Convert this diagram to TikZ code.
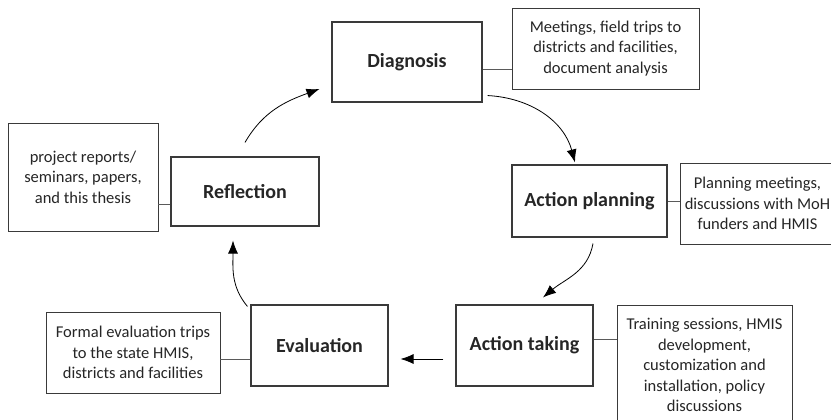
\documentclass[tikz,border=0pt]{standalone}
\usepackage{fontspec}
\setmainfont{Carlito}
\usetikzlibrary{arrows.meta,calc}
\definecolor{boxgray}{HTML}{3A3A3A}
\definecolor{textgray}{HTML}{262626}
\definecolor{linkgray}{HTML}{5A5A5A}
\begin{document}
\begin{tikzpicture}[x=1pt,y=1pt,
  stage/.style={draw=boxgray, line width=1.1pt, fill=white, text=textgray,
    font=\fontsize{20}{24}\selectfont\bfseries, inner sep=0pt},
  note/.style={draw=boxgray, line width=0.9pt, fill=white, text=textgray, align=center,
    font=\fontsize{16.5}{20.5}\selectfont, inner sep=0pt},
  link/.style={draw=linkgray, line width=0.9pt},
  flow/.style={draw=black, line width=0.8pt, -{Latex[length=13pt,width=10pt]}},
]
\useasboundingbox (0,0) rectangle (831,420);
\clip (0,0) rectangle (831,420);

% stages of the cycle
\node[stage, minimum width=150pt, minimum height=80pt] (diag) at (407,358) {Diagnosis};
\node[stage, minimum width=155pt, minimum height=72pt] (plan) at (589.5,219) {Action planning};
\node[stage, minimum width=137pt, minimum height=81pt] (take) at (524.5,74.5) {Action taking};
\node[stage, minimum width=137pt, minimum height=81pt] (eval) at (319.5,74.5) {Evaluation};
\node[stage, minimum width=148pt, minimum height=69pt] (refl) at (245,228.5) {Reflection};

% activities attached to each stage
\node[note, minimum width=187pt, minimum height=81pt] (dnote) at (605.5,371.5)
  {Meetings, field trips to\\districts and facilities,\\document analysis};
\node[note, minimum width=155pt, minimum height=81pt] (pnote) at (757.5,216.5)
  {Planning meetings,\\discussions with MoH\\funders and HMIS};
\node[note, minimum width=175pt, minimum height=120pt] (tnote) at (704.5,55)
  {Training sessions, HMIS\\development,\\customization and\\installation, policy\\discussions};
\node[note, minimum width=174pt, minimum height=81pt] (enote) at (133,67.5)
  {Formal evaluation trips\\to the state HMIS,\\districts and facilities};
\node[note, minimum width=150pt, minimum height=108pt] (rnote) at (83,243)
  {project reports/\\seminars, papers,\\and this thesis};

% levels of the attaching lines
\coordinate (dl) at (0,351);
\coordinate (pl) at (0,219);
\coordinate (tl) at (0,81);
\coordinate (el) at (0,61);
\coordinate (rl) at (0,216);

\draw[link] (diag.east |- dl) -- (dnote.west |- dl);
\draw[link] (plan.east |- pl) -- (pnote.west |- pl);
\draw[link] (take.east |- tl) -- (tnote.west |- tl);
\draw[link] (eval.west |- el) -- (enote.east |- el);
\draw[link] (refl.west |- rl) -- (rnote.east |- rl);

% cycle arrows
\coordinate (r1) at ($(refl.north)+(0,14)$);
\coordinate (d0) at ($(diag.west)+(-12,-27)$);
\draw[flow] (r1) to[out=60, in=200] (d0);

\coordinate (d1) at ($(diag.south east)+(5,7)$);
\coordinate (p0) at ($(plan.north)+(-14.5,2)$);
\draw[flow] (d1) to[out=-3, in=105] (p0);

\coordinate (p1) at ($(plan.south)+(3.5,-6)$);
\coordinate (t0) at ($(take.north)+(18.5,7)$);
\draw[flow] (p1) to[out=-100, in=40] (t0);

\coordinate (t1) at ($(take.west |- el)+(-12,0)$);
\coordinate (e0) at ($(eval.east |- el)+(12,0)$);
\draw[flow] (t1) -- (e0);

\coordinate (e1) at ($(eval.north west)+(-3,-2)$);
\coordinate (r0) at ($(refl.south)+(-12,-14)$);
\draw[flow] (e1) to[out=130, in=-90] (r0);
\end{tikzpicture}
\end{document}
